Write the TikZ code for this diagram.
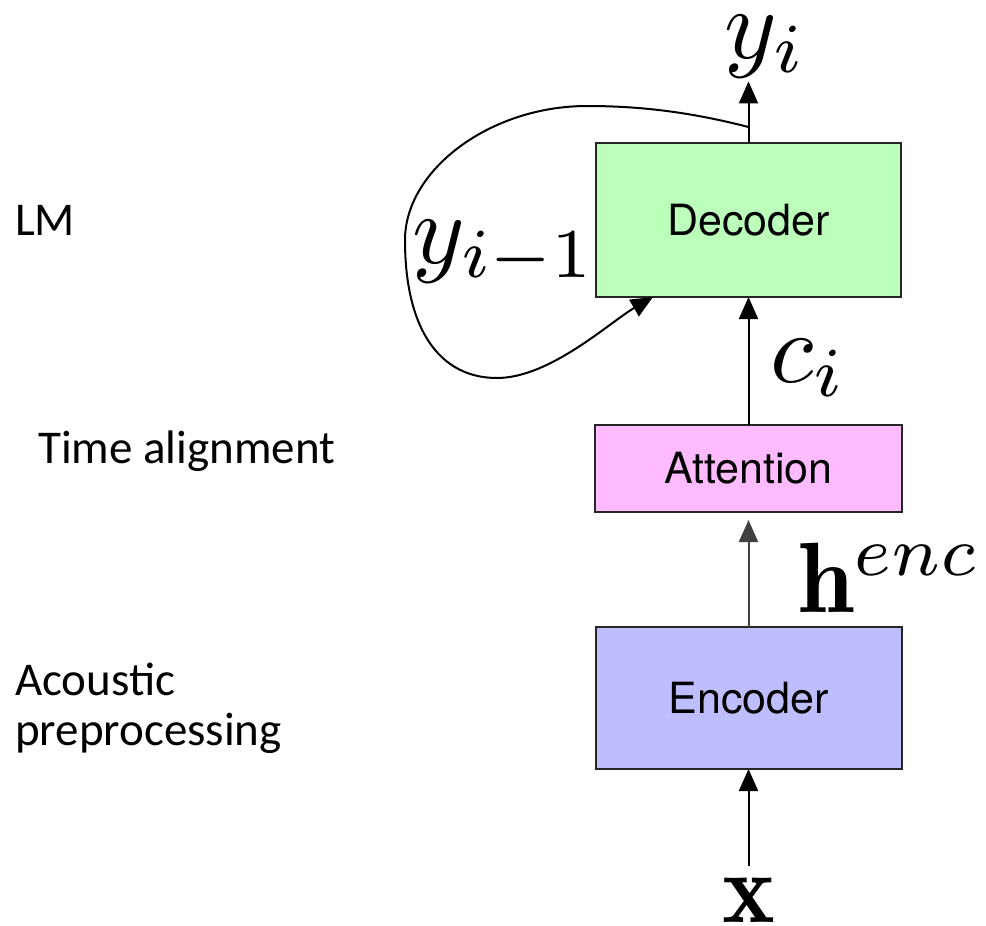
\documentclass[tikz,border=0pt]{standalone}
\usepackage{fontspec}
\usetikzlibrary{arrows.meta}
\newfontfamily\calfont{Carlito}
\newfontfamily\helvfont{TeX Gyre Heros}
\definecolor{decfill}{RGB}{187,255,187}
\definecolor{attfill}{RGB}{255,187,255}
\definecolor{encfill}{RGB}{190,190,255}
\begin{document}
\begin{tikzpicture}[x=1pt,y=-1pt,
  block/.style={draw=black!85, line width=2pt, inner sep=0pt, outer sep=0pt,
    font=\helvfont\fontsize{43}{50}\selectfont},
  sidelabel/.style={anchor=base west, inner sep=0pt, font=\calfont\fontsize{47}{50}\selectfont, align=left},
  mathlabel/.style={inner sep=0pt, scale=10},
  arr/.style={line width=2pt, -{Triangle[length=22pt,width=19pt]}},
  loopline/.style={line width=2pt}
]
\useasboundingbox (0,0) rectangle (986,926);

% blocks
\node[block, fill=decfill, minimum width=305pt, minimum height=154pt] (dec) at (748.5,220) {Decoder};
\node[block, fill=attfill, minimum width=307pt, minimum height=87pt] (att) at (748.5,468.5) {Attention};
\node[block, fill=encfill, minimum width=306pt, minimum height=142pt] (enc) at (748.5,698) {Encoder};

% math labels
\node[mathlabel, anchor=base west] (yi) at (722,58) {$y_i$};
\node[mathlabel, anchor=base west] (yim) at (410,263) {$y_{i-1}$};
\node[mathlabel, anchor=base west] (ci) at (768,382) {$c_i$};
\node[mathlabel, anchor=base west] (henc) at (796,612) {$\mathbf{h}^{enc}$};
\node[mathlabel, anchor=base] (xin) at (748.5,922) {$\mathbf{x}$};

% side labels
\node[sidelabel] (lm) at (15,235) {LM};
\node[sidelabel] (ta) at (38,463) {Time alignment};
\node[sidelabel] (ap) at (15,745) {Acoustic\\preprocessing};

% connectors
\draw[arr] ([yshift=10pt]xin.north) -- (enc.south);
\draw[arr, draw=black!75, shorten >=8pt] (enc.north) -- (att.south);
\draw[arr] (att.north) -- (dec.south);
\draw[arr, shorten >=2pt] (dec.north) -- (dec.north |- yi.south);

% feedback loop
\coordinate (branch) at (748.5,127);
\coordinate (fbend) at (653,297);
\draw[loopline, -{Triangle[length=22pt,width=19pt]}] (branch)
  .. controls (690,112) and (640,106) .. (587,106)
  .. controls (490,106) and (405,170) .. (405,240)
  .. controls (405,330) and (440,378) .. (497,378)
  .. controls (550,378) and (610,322) .. (fbend);
\end{tikzpicture}
\end{document}
